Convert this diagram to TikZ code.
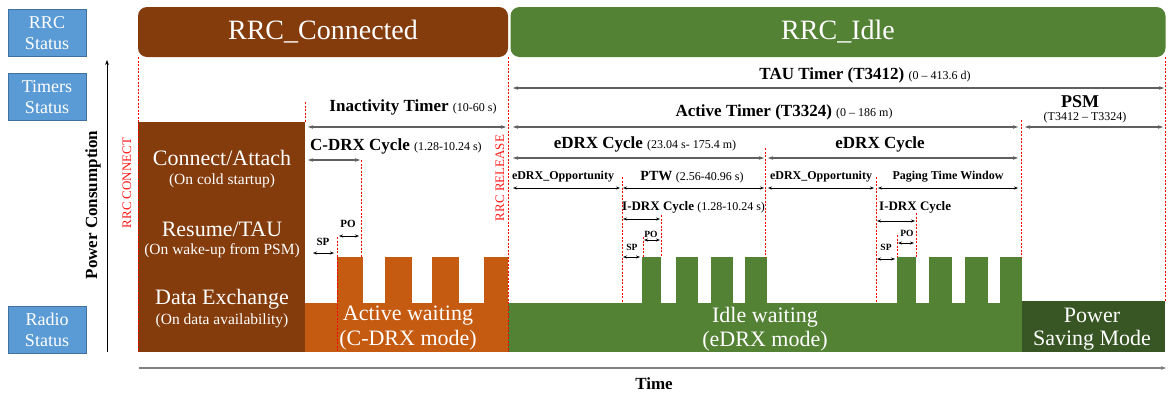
\documentclass[tikz,border=0pt]{standalone}
\usepackage{fontspec}
\setmainfont{Liberation Serif}
\usepackage{tikz}
\usetikzlibrary{arrows.meta, positioning, calc}

\definecolor{connbrown}{RGB}{132,60,12}
\definecolor{cdrxorange}{RGB}{197,90,17}
\definecolor{idlegreen}{RGB}{84,130,53}
\definecolor{psmgreen}{RGB}{55,86,35}
\definecolor{statusblue}{RGB}{91,155,213}
\definecolor{statusedge}{RGB}{65,113,156}
\newcommand{\rng}[1]{{\mdseries\fontsize{12}{14}\selectfont #1}}

\begin{document}
\begin{tikzpicture}[x=1pt, y=-1pt,
      statusbox/.style={rectangle, draw=statusedge, fill=statusblue, line width=0.8pt,
                    minimum width=78pt, minimum height=47pt, inner sep=0pt,
                    align=center, text=white, font=\fontsize{18}{21}\selectfont},
      rrcbar/.style={rectangle, rounded corners=9pt, inner sep=0pt,
                    text=white, font=\fontsize{28}{32}\selectfont},
      phase/.style={text=white, inner sep=0pt, font=\fontsize{22}{24}\selectfont},
      phasesub/.style={text=white, inner sep=0pt, font=\fontsize{15.5}{18}\selectfont},
      biglbl/.style={inner sep=0pt, font=\bfseries\fontsize{17}{20}\selectfont},
      smalllbl/.style={inner sep=0pt, font=\bfseries\fontsize{12}{14}\selectfont},
      tinylbl/.style={inner sep=0pt, font=\bfseries\fontsize{11}{13}\selectfont},
      marker/.style={red, dash pattern=on 2pt off 1.5pt, line width=0.7pt},
      redlbl/.style={red!90!white, rotate=90, inner sep=0pt, font=\fontsize{13}{15}\selectfont},
      span/.style={{Stealth[length=5pt,width=3.5pt]}-{Stealth[length=5pt,width=3.5pt]},
                    gray!75!black, line width=1.2pt},
      subspan/.style={{Stealth[length=4pt,width=3pt]}-{Stealth[length=4pt,width=3pt]},
                    black, line width=0.7pt}
    ]
        \useasboundingbox (0,0) rectangle (1174,394);
        % status column
        \node[statusbox] (rrcstat) at (47,33) {RRC\\Status};
        \node[statusbox] (timstat) at (47,97) {Timers\\Status};
        \node[statusbox] (radstat) at (47,330) {Radio\\Status};
        % axes
        \draw[-{Stealth[length=5pt]}, line width=0.7pt] (107,352) -- (107,60);
        \node[biglbl, rotate=90] (power) at (93,205) {Power Consumption};
        \draw[-{Stealth[length=5pt]}, gray, line width=1.2pt] (139,368) -- (1166,368);
        \node[biglbl] (time) at (654,384) {Time};
        % RRC state bars
        \node[rrcbar, fill=connbrown, minimum width=370pt, minimum height=50pt] (connbar) at (323,32) {RRC\_Connected};
        \node[rrcbar, fill=idlegreen, minimum width=655pt, minimum height=50pt] (idlebar) at (838,32) {RRC\_Idle};
        % radio status blocks
        \fill[connbrown] (138,122) rectangle (305,352);
        \fill[cdrxorange] (305,303) rectangle (508,352);
        \foreach \a/\b in {337/363, 385/412, 432/459, 484/508}
            \fill[cdrxorange] (\a,257) rectangle (\b,303.5);
        \fill[idlegreen] (508,303) rectangle (1022,352);
        \foreach \a/\b in {642/661, 676/698, 711/733, 745/767, 897/916, 929/952, 965/988, 1000/1022}
            \fill[idlegreen] (\a,257) rectangle (\b,303.5);
        \fill[psmgreen] (1022,301) rectangle (1165,352);
        \node[phase] (conn) at (222,158) {Connect/Attach};
        \node[phasesub] (connsub) at (222,181) {(On cold startup)};
        \node[phase] (resume) at (222,229) {Resume/TAU};
        \node[phasesub] (resumesub) at (222,251) {(On wake-up from PSM)};
        \node[phase] (data) at (222,299) {Data Exchange};
        \node[phasesub] (datasub) at (222,321) {(On data availability)};
        \node[phase] (active) at (408,316) {Active waiting};
        \node[phase] (activesub) at (408,340) {(C-DRX mode)};
        \node[phase] (idle) at (765,317) {Idle waiting};
        \node[phase] (idlesub) at (765,341) {(eDRX mode)};
        \node[phase] (psm) at (1092,315) {Power};
        \node[phase] (psmsub) at (1092,340) {Saving Mode};
        % red markers
        \draw[marker] (138,57) -- (138,352);
        \draw[marker] (508,57) -- (508,352);
        \draw[marker] (1165,57) -- (1165,301);
        \draw[marker] (305,102) -- (305,122);
        \draw[marker] (361,160) -- (361,257);
        \draw[marker] (337,237) -- (337,352);
        \draw[marker] (1021,120) -- (1021,257);
        \draw[marker] (765,148) -- (765,257);
        \draw[marker] (622,177) -- (622,303);
        \draw[marker] (661,215) -- (661,257);
        \draw[marker] (643,237) -- (643,257);
        \draw[marker] (876,177) -- (876,303);
        \draw[marker] (916,213) -- (916,257);
        \draw[marker] (897,235) -- (897,257);
        \node[redlbl] (rrcconn) at (127,183) {RRC CONNECT};
        \node[redlbl] (rrcrel) at (500,178) {RRC RELEASE};
        % timers
        \node[biglbl] (tau) at (865,75) {TAU Timer (T3412) \rng{(0 -- 413.6 d)}};
        \draw[span] (513,88) -- (1164,88);
        \node[biglbl] (inact) at (413,107) {Inactivity Timer \rng{(10-60 s)}};
        \draw[span] (308,127) -- (506,127);
        \node[biglbl] (act) at (784,112) {Active Timer (T3324) \rng{(0 -- 186 m)}};
        \draw[span] (513,127) -- (1018,127);
        \node[biglbl, font=\bfseries\fontsize{18}{20}\selectfont] (psmlbl) at (1080,102) {PSM};
        \node[inner sep=0pt, font=\fontsize{12}{14}\selectfont] (psmrng) at (1085,118) {(T3412 -- T3324)};
        \draw[span] (1025,127) -- (1163,127);
        \node[biglbl, anchor=west] (cdrx) at (310,146) {C-DRX Cycle \rng{(1.28-10.24 s)}};
        \draw[span] (308,160) -- (360,160);
        \node[biglbl] (edrx) at (645,144) {eDRX Cycle \rng{(23.04 s- 175.4 m)}};
        \draw[span] (513,158) -- (764,158);
        \node[biglbl] (edrxb) at (880,144) {eDRX Cycle};
        \draw[span] (768,158) -- (1018,158);
        % eDRX windows
        \node[smalllbl] (opp) at (563,177) {eDRX\_Opportunity};
        \draw[subspan] (513,188) -- (620,188);
        \node[smalllbl, font=\bfseries\fontsize{14}{16}\selectfont] (ptw) at (692,177) {PTW \rng{(2.56-40.96 s)}};
        \draw[subspan] (623,188) -- (764,188);
        \node[smalllbl] (oppb) at (821,177) {eDRX\_Opportunity};
        \draw[subspan] (768,188) -- (874,188);
        \node[smalllbl] (ptwb) at (948,177) {Paging Time Window};
        \draw[subspan] (878,188) -- (1018,188);
        % I-DRX cycles
        \node[smalllbl, anchor=west, font=\bfseries\fontsize{13}{15}\selectfont] (idrx) at (622,207) {I-DRX Cycle \rng{(1.28-10.24 s)}};
        \draw[subspan] (623,219) -- (660,219);
        \node[smalllbl, anchor=west, font=\bfseries\fontsize{13}{15}\selectfont] (idrxb) at (879,207) {I-DRX Cycle};
        \draw[subspan] (877,221) -- (915,221);
        % SP and PO
        \node[tinylbl] (spa) at (323,242) {SP};
        \draw[subspan] (313,253) -- (334,253);
        \node[tinylbl] (poa) at (348,224) {PO};
        \draw[subspan] (339,236) -- (359,236);
        \node[tinylbl, font=\bfseries\fontsize{9.5}{11}\selectfont] (spb) at (632,247) {SP};
        \draw[subspan] (623,257) -- (640,257);
        \node[tinylbl, font=\bfseries\fontsize{9.5}{11}\selectfont] (pob) at (651,234) {PO};
        \draw[subspan] (644,240) -- (660,240);
        \node[tinylbl, font=\bfseries\fontsize{9.5}{11}\selectfont] (spc) at (886,247) {SP};
        \draw[subspan] (877,259) -- (895,259);
        \node[tinylbl, font=\bfseries\fontsize{9.5}{11}\selectfont] (poc) at (907,233) {PO};
        \draw[subspan] (898,243) -- (914,243);
    \end{tikzpicture}
\end{document}
